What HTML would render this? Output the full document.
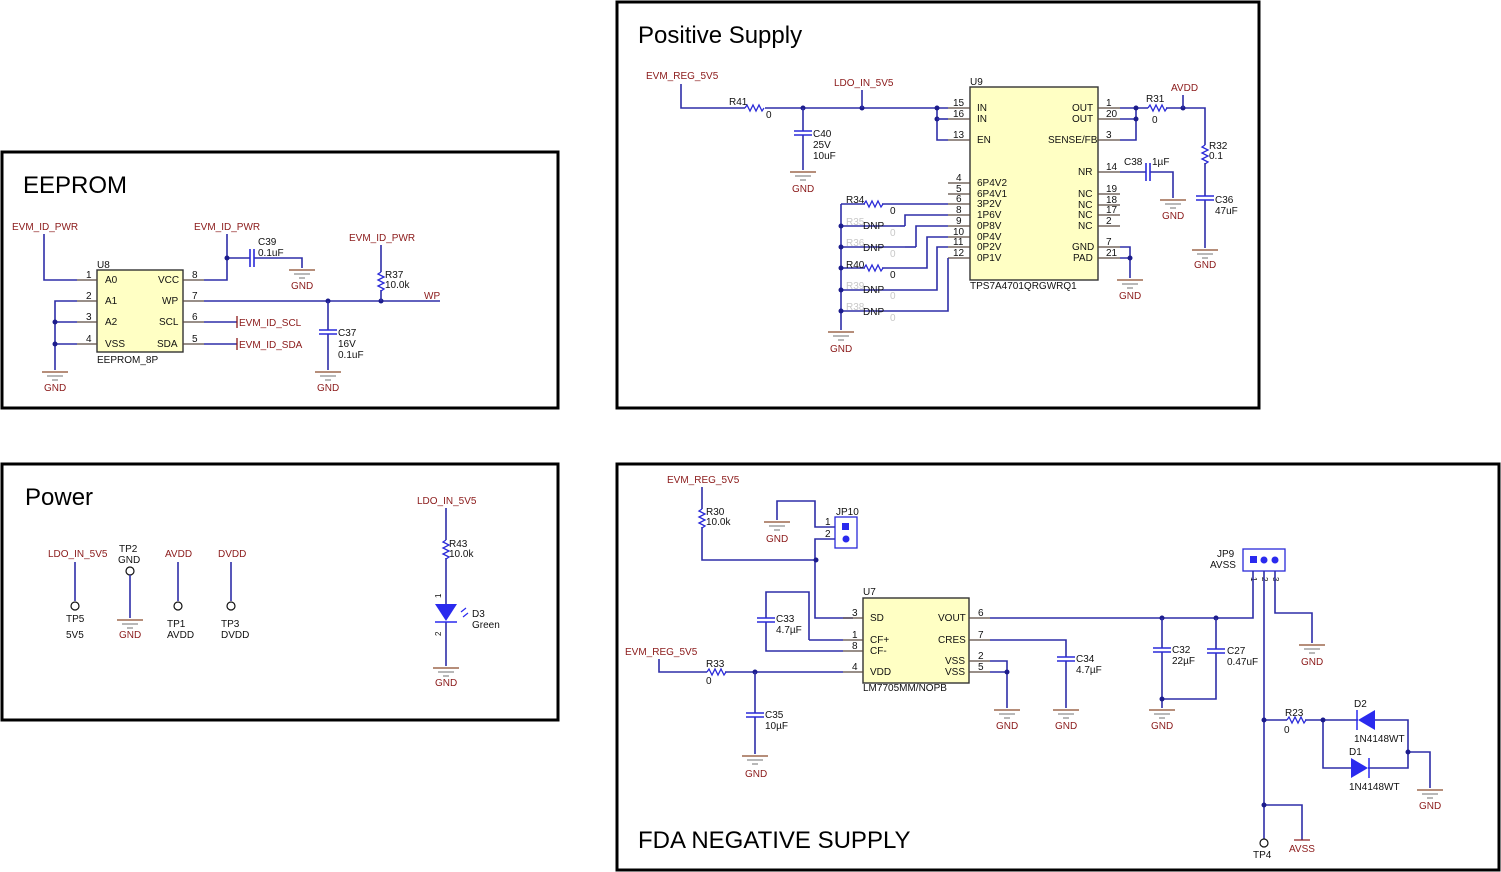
<!DOCTYPE html>
<html><head><meta charset="utf-8"><style>
html,body{margin:0;padding:0;background:#fff}
svg{display:block}
text{font-family:"Liberation Sans",Arial,sans-serif;font-size:10px;fill:#111}
.r{fill:#8b1a1a}
.g{fill:#c8c8c8}
.t{font-size:24px;fill:#000}
.w{stroke:#2e2ea8;stroke-width:1.6;fill:none}
.p{stroke:#5a4a40;stroke-width:1.2;fill:none}
.k{stroke:#111;stroke-width:1.2;fill:none}
.b{stroke:#000;stroke-width:3;fill:none}
.ic{fill:#ffffc4;stroke:#333;stroke-width:1.4}
.d{fill:#1c1c8c}
.res{stroke:#2a2ad8;stroke-width:1.3;fill:none}
.cap{stroke:#2a2ad8;stroke-width:1.6}
</style></head><body>
<svg width="1501" height="872" viewBox="0 0 1501 872" xmlns="http://www.w3.org/2000/svg">
<defs>
<g id="gnd"><line x1="-13" y1="0" x2="13" y2="0" stroke="#8b4a2a" stroke-width="1.3"/><line x1="-8" y1="4" x2="8" y2="4" stroke="#888" stroke-width="1.2"/><line x1="-3" y1="8" x2="3" y2="8" stroke="#888" stroke-width="1.2"/></g>
<path id="rh" d="M0 0 l2 -3 l3 6 l3 -6 l3 6 l3 -6 l3 6 l2 -3" class="res"/>
<path id="rv" d="M0 0 l-3 2 l6 3 l-6 3 l6 3 l-6 3 l6 3 l-3 2" class="res"/>
<g id="cv"><line x1="-9" y1="0" x2="9" y2="0" class="cap"/><line x1="-9" y1="4" x2="9" y2="4" class="cap"/></g>
<g id="ch"><line x1="0" y1="-9" x2="0" y2="9" class="cap"/><line x1="4" y1="-9" x2="4" y2="9" class="cap"/></g>
</defs>
<rect width="1501" height="872" fill="#fff"/>
<!-- frames -->
<rect x="2" y="152" width="556" height="256" class="b"/>
<rect x="617" y="2" width="642" height="406" class="b"/>
<rect x="2" y="464" width="556" height="256" class="b"/>
<rect x="617" y="464" width="882" height="406" class="b"/>
<text x="23" y="193" class="t">EEPROM</text>
<text x="638" y="43" class="t">Positive Supply</text>
<text x="25" y="505" class="t">Power</text>
<text x="638" y="848" class="t">FDA NEGATIVE SUPPLY</text>

<!-- ===== EEPROM ===== -->
<rect x="97" y="270" width="86" height="82" class="ic"/>
<text x="97" y="268">U8</text>
<text x="97" y="363">EEPROM_8P</text>
<text x="105" y="283">A0</text><text x="105" y="304">A1</text><text x="105" y="325">A2</text><text x="105" y="347">VSS</text>
<text x="158" y="283">VCC</text><text x="162" y="304">WP</text><text x="159" y="325">SCL</text><text x="157" y="347">SDA</text>
<g class="p"><path d="M77 280H97M77 301H97M77 322H97M77 344H97M183 280H204M183 301H204M183 322H204M183 344H204"/></g>
<text x="86" y="278">1</text><text x="86" y="299">2</text><text x="86" y="320">3</text><text x="86" y="342">4</text>
<text x="192" y="278">8</text><text x="192" y="299">7</text><text x="192" y="320">6</text><text x="192" y="342">5</text>
<text x="12" y="230" class="r">EVM_ID_PWR</text>
<path class="w" d="M44 234V280H77M77 301H55V370M55 322H77M55 344H77"/>
<circle cx="55" cy="322" r="2.5" class="d"/><circle cx="55" cy="344" r="2.5" class="d"/>
<use href="#gnd" x="55" y="372"/><text x="44" y="391" class="r">GND</text>
<text x="194" y="230" class="r">EVM_ID_PWR</text>
<path class="w" d="M227 234V280H204M227 258H250M254 258H302V268"/>
<circle cx="227" cy="258" r="2.5" class="d"/>
<use href="#ch" x="250" y="258"/>
<text x="258" y="245">C39</text><text x="258" y="256">0.1uF</text>
<use href="#gnd" x="302" y="270"/><text x="291" y="289" class="r">GND</text>
<path class="w" d="M204 301H440"/>
<text x="424" y="299" class="r">WP</text>
<circle cx="328" cy="301" r="2.5" class="d"/><circle cx="381" cy="301" r="2.5" class="d"/>
<text x="349" y="241" class="r">EVM_ID_PWR</text>
<path class="w" d="M381 245V272M381 290V301"/><use href="#rv" x="381" y="272"/>
<text x="385" y="278">R37</text><text x="385" y="288">10.0k</text>
<path class="w" d="M328 301V330M328 334V370"/><use href="#cv" x="328" y="330"/>
<text x="338" y="336">C37</text><text x="338" y="347">16V</text><text x="338" y="358">0.1uF</text>
<use href="#gnd" x="328" y="372"/><text x="317" y="391" class="r">GND</text>
<path class="w" d="M204 322H237M204 344H237"/>
<path d="M237 316V328M237 338V350" stroke="#8b1a1a" stroke-width="1.3"/>
<text x="239" y="326" class="r">EVM_ID_SCL</text><text x="239" y="348" class="r">EVM_ID_SDA</text>

<!-- ===== Positive Supply ===== -->
<rect x="970" y="87" width="128" height="193" class="ic"/>
<text x="970" y="85">U9</text>
<text x="970" y="289">TPS7A4701QRGWRQ1</text>
<g class="p"><path d="M948 108H970M948 119H970M948 140H970M948 183H970M948 194H970M948 204H970M948 215H970M948 226H970M948 237H970M948 247H970M948 258H970M1098 108H1120M1098 119H1120M1098 140H1120M1098 172H1120M1098 194H1120M1098 205H1120M1098 215H1120M1098 226H1120M1098 247H1120M1098 258H1120"/></g>
<g style="font-size:9px">
<text x="953" y="106">15</text><text x="953" y="117">16</text><text x="953" y="138">13</text><text x="956" y="181">4</text><text x="956" y="192">5</text><text x="956" y="202">6</text><text x="956" y="213">8</text><text x="956" y="224">9</text><text x="953" y="235">10</text><text x="953" y="245">11</text><text x="953" y="256">12</text>
<text x="1106" y="106">1</text><text x="1106" y="117">20</text><text x="1106" y="138">3</text><text x="1106" y="170">14</text><text x="1106" y="192">19</text><text x="1106" y="203">18</text><text x="1106" y="213">17</text><text x="1106" y="224">2</text><text x="1106" y="245">7</text><text x="1106" y="256">21</text>
<text x="977" y="111">IN</text><text x="977" y="122">IN</text><text x="977" y="143">EN</text><text x="977" y="186">6P4V2</text><text x="977" y="197">6P4V1</text><text x="977" y="207">3P2V</text><text x="977" y="218">1P6V</text><text x="977" y="229">0P8V</text><text x="977" y="240">0P4V</text><text x="977" y="250">0P2V</text><text x="977" y="261">0P1V</text>
<text x="1072" y="111">OUT</text><text x="1072" y="122">OUT</text><text x="1048" y="143">SENSE/FB</text><text x="1078" y="175">NR</text><text x="1078" y="197">NC</text><text x="1078" y="208">NC</text><text x="1078" y="218">NC</text><text x="1078" y="229">NC</text><text x="1072" y="250">GND</text><text x="1073" y="261">PAD</text>
</g>
<text x="646" y="79" class="r">EVM_REG_5V5</text>
<path class="w" d="M681 84V108H745M765 108H948M937 108V140H948"/>
<use href="#rh" x="745" y="108"/>
<text x="729" y="105">R41</text><text x="766" y="118">0</text>
<circle cx="803" cy="108" r="2.5" class="d"/><circle cx="862" cy="108" r="2.5" class="d"/><circle cx="937" cy="108" r="2.5" class="d"/><circle cx="937" cy="119" r="2.5" class="d"/>
<path class="w" d="M937 119H948"/>
<text x="834" y="86" class="r">LDO_IN_5V5</text><path class="w" d="M862 90V108"/>
<path class="w" d="M803 108V131M803 135V170"/><use href="#cv" x="803" y="131"/>
<text x="813" y="137">C40</text><text x="813" y="148">25V</text><text x="813" y="159">10uF</text>
<use href="#gnd" x="803" y="172"/><text x="792" y="192" class="r">GND</text>
<!-- ladder -->
<path class="w" d="M841 204V330M841 204H865M882 204H948M841 226H900M905 226H905V215H948M841 247H905M916 247V226H948M841 268H865M882 268H927V237H948M841 290H937V247H948M841 311H948V258"/>
<use href="#rh" x="864" y="204"/><use href="#rh" x="864" y="268"/>
<g class="d"><circle cx="841" cy="226" r="2.5"/><circle cx="841" cy="247" r="2.5"/><circle cx="841" cy="268" r="2.5"/><circle cx="841" cy="290" r="2.5"/><circle cx="841" cy="311" r="2.5"/></g>
<path class="w" d="M900 226H905"/><path class="w" d="M905 247H916"/>
<text x="846" y="203">R34</text><text x="890" y="214">0</text>
<text x="846" y="225" class="g">R35</text><text x="863" y="229">DNP</text><text x="890" y="236" class="g">0</text>
<text x="846" y="246" class="g">R36</text><text x="863" y="251">DNP</text><text x="890" y="257" class="g">0</text>
<text x="846" y="268">R40</text><text x="890" y="278">0</text>
<text x="846" y="289" class="g">R39</text><text x="863" y="293">DNP</text><text x="890" y="299" class="g">0</text>
<text x="846" y="310" class="g">R38</text><text x="863" y="315">DNP</text><text x="890" y="321" class="g">0</text>
<use href="#gnd" x="841" y="332"/><text x="830" y="352" class="r">GND</text>
<!-- right side -->
<path class="w" d="M1120 108H1148M1166 108H1205V145M1120 119H1136M1136 108V140H1120"/>
<use href="#rh" x="1148" y="108"/>
<circle cx="1136" cy="108" r="2.5" class="d"/><circle cx="1136" cy="119" r="2.5" class="d"/><circle cx="1183" cy="108" r="2.5" class="d"/>
<text x="1146" y="102">R31</text><text x="1152" y="123">0</text>
<text x="1171" y="91" class="r">AVDD</text><path class="w" d="M1183 95V108"/>
<use href="#rv" x="1205" y="145"/>
<path class="w" d="M1205 163V196M1205 200V248"/><use href="#cv" x="1205" y="196"/>
<text x="1209" y="149">R32</text><text x="1209" y="159">0.1</text>
<text x="1215" y="203">C36</text><text x="1215" y="214">47uF</text>
<use href="#gnd" x="1205" y="250"/><text x="1194" y="268" class="r">GND</text>
<path class="w" d="M1120 172H1146M1150 172H1173V198"/><use href="#ch" x="1146" y="172"/>
<text x="1124" y="165">C38</text><text x="1152" y="165">1µF</text>
<use href="#gnd" x="1173" y="200"/><text x="1162" y="219" class="r">GND</text>
<path class="w" d="M1120 247H1130V278M1120 258H1130"/><circle cx="1130" cy="258" r="2.5" class="d"/>
<use href="#gnd" x="1130" y="280"/><text x="1119" y="299" class="r">GND</text>

<!-- ===== Power ===== -->
<text x="48" y="557" class="r">LDO_IN_5V5</text>
<path class="w" d="M75 562V601"/><circle cx="75" cy="606" r="4" fill="#fff" stroke="#111" stroke-width="1.2"/>
<text x="66" y="622">TP5</text><text x="66" y="638">5V5</text>
<text x="119" y="552">TP2</text><text x="118" y="563">GND</text>
<circle cx="130" cy="571" r="4" fill="#fff" stroke="#111" stroke-width="1.2"/>
<path class="w" d="M130 575V618"/><use href="#gnd" x="130" y="620"/><text x="119" y="638" class="r">GND</text>
<text x="165" y="557" class="r">AVDD</text>
<path class="w" d="M178 562V601"/><circle cx="178" cy="606" r="4" fill="#fff" stroke="#111" stroke-width="1.2"/>
<text x="167" y="627">TP1</text><text x="167" y="638">AVDD</text>
<text x="218" y="557" class="r">DVDD</text>
<path class="w" d="M231 562V601"/><circle cx="231" cy="606" r="4" fill="#fff" stroke="#111" stroke-width="1.2"/>
<text x="221" y="627">TP3</text><text x="221" y="638">DVDD</text>
<text x="417" y="504" class="r">LDO_IN_5V5</text>
<path class="w" d="M446 508V540M446 558V604M446 622V666"/><use href="#rv" x="446" y="540"/>
<text x="449" y="547">R43</text><text x="449" y="557">10.0k</text>
<path d="M435 604H457L446 621Z" fill="#2a2aee"/><line x1="435" y1="622" x2="457" y2="622" stroke="#2a2aee" stroke-width="1.5"/>
<path d="M461 612l5 -4M463 617l5 -4" stroke="#2a2aee" stroke-width="1.2"/>
<text x="441" y="598" transform="rotate(-90 441 598)" style="font-size:8px">1</text>
<text x="441" y="636" transform="rotate(-90 441 636)" style="font-size:8px">2</text>
<text x="472" y="617">D3</text><text x="472" y="628">Green</text>
<use href="#gnd" x="446" y="668"/><text x="435" y="686" class="r">GND</text>

<!-- ===== FDA NEGATIVE ===== -->
<text x="667" y="483" class="r">EVM_REG_5V5</text>
<path class="w" d="M702 487V509M702 527V560H816M777 520V501H815V527H835M835 539H815V618H853"/>
<use href="#rv" x="702" y="509"/>
<text x="706" y="515">R30</text><text x="706" y="525">10.0k</text>
<circle cx="816" cy="560" r="2.5" class="d"/>
<use href="#gnd" x="777" y="522"/><text x="766" y="542" class="r">GND</text>
<rect x="835" y="517" width="22" height="31" fill="none" stroke="#2a2ad8" stroke-width="1.3"/>
<rect x="842" y="523" width="7" height="7" fill="#2a2aee"/><circle cx="846" cy="539" r="3.5" fill="#2a2aee"/>
<text x="836" y="515">JP10</text><text x="825" y="525">1</text><text x="825" y="537">2</text>
<rect x="863" y="598" width="106" height="85" class="ic"/>
<text x="863" y="595">U7</text><text x="863" y="691">LM7705MM/NOPB</text>
<g class="p"><path d="M843 618H863M843 640H863M843 651H863M843 672H863M969 618H990M969 640H990M969 661H990M969 672H990"/></g>
<text x="852" y="616">3</text><text x="852" y="638">1</text><text x="852" y="649">8</text><text x="852" y="670">4</text>
<text x="978" y="616">6</text><text x="978" y="638">7</text><text x="978" y="659">2</text><text x="978" y="670">5</text>
<text x="870" y="621">SD</text><text x="870" y="643">CF+</text><text x="870" y="654">CF-</text><text x="870" y="675">VDD</text>
<text x="938" y="621">VOUT</text><text x="938" y="643">CRES</text><text x="945" y="664">VSS</text><text x="945" y="675">VSS</text>
<path class="w" d="M809 640H843M809 640V592H766V618M766 622V651H843"/><use href="#cv" x="766" y="618"/>
<text x="776" y="622">C33</text><text x="776" y="633">4.7µF</text>
<text x="625" y="655" class="r">EVM_REG_5V5</text>
<path class="w" d="M659 659V672H707M725 672H843"/><use href="#rh" x="707" y="672"/>
<text x="706" y="667">R33</text><text x="706" y="684">0</text>
<circle cx="755" cy="672" r="2.5" class="d"/>
<path class="w" d="M755 672V713M755 717V754"/><use href="#cv" x="755" y="713"/>
<text x="765" y="718">C35</text><text x="765" y="729">10µF</text>
<use href="#gnd" x="755" y="756"/><text x="745" y="777" class="r">GND</text>
<path class="w" d="M990 661H1007V708M990 672H1007"/><circle cx="1007" cy="672" r="2.5" class="d"/>
<use href="#gnd" x="1007" y="710"/><text x="996" y="729" class="r">GND</text>
<path class="w" d="M990 640H1066V657M1066 661V708"/><use href="#cv" x="1066" y="657"/>
<text x="1076" y="662">C34</text><text x="1076" y="673">4.7µF</text>
<use href="#gnd" x="1066" y="710"/><text x="1055" y="729" class="r">GND</text>
<path class="w" d="M990 618H1253V580"/>
<circle cx="1162" cy="618" r="2.5" class="d"/><circle cx="1216" cy="618" r="2.5" class="d"/>
<path class="w" d="M1162 618V648M1162 652V708M1216 618V649M1216 653V699H1162"/>
<use href="#cv" x="1162" y="648"/><use href="#cv" x="1216" y="649"/>
<circle cx="1162" cy="699" r="2.5" class="d"/>
<text x="1172" y="653">C32</text><text x="1172" y="664">22µF</text>
<text x="1227" y="654">C27</text><text x="1227" y="665">0.47uF</text>
<use href="#gnd" x="1162" y="710"/><text x="1151" y="729" class="r">GND</text>
<rect x="1243" y="549" width="42" height="22" fill="none" stroke="#2a2ad8" stroke-width="1.3"/>
<rect x="1250" y="556" width="7" height="7" fill="#2a2aee"/><circle cx="1264" cy="560" r="3.5" fill="#2a2aee"/><circle cx="1275" cy="560" r="3.5" fill="#2a2aee"/>
<text x="1217" y="557">JP9</text><text x="1210" y="568">AVSS</text>
<text x="1251" y="577" transform="rotate(90 1251 577)" style="font-size:8px">1</text>
<text x="1262" y="577" transform="rotate(90 1262 577)" style="font-size:8px">2</text>
<text x="1273" y="577" transform="rotate(90 1273 577)" style="font-size:8px">3</text>
<path class="w" d="M1253 571V580M1264 571V839M1275 571V613H1312V643"/>
<use href="#gnd" x="1312" y="645"/><text x="1301" y="665" class="r">GND</text>
<path class="w" d="M1264 720H1287M1305 720H1358M1375 720H1408V768H1368M1351 768H1323V720M1408 752H1430V788"/>
<use href="#rh" x="1287" y="720"/>
<text x="1285" y="716">R23</text><text x="1284" y="733">0</text>
<circle cx="1264" cy="720" r="2.5" class="d"/><circle cx="1323" cy="720" r="2.5" class="d"/><circle cx="1408" cy="752" r="2.5" class="d"/>
<path d="M1375 710V730L1358 720Z" fill="#2a2aee"/><line x1="1357" y1="710" x2="1357" y2="730" stroke="#2a2aee" stroke-width="1.5"/>
<path d="M1351 758V778L1368 768Z" fill="#2a2aee"/><line x1="1369" y1="758" x2="1369" y2="778" stroke="#2a2aee" stroke-width="1.5"/>
<text x="1354" y="707">D2</text><text x="1354" y="742">1N4148WT</text>
<text x="1349" y="755">D1</text><text x="1349" y="790">1N4148WT</text>
<use href="#gnd" x="1430" y="790"/><text x="1419" y="809" class="r">GND</text>
<path class="w" d="M1264 805H1302V840"/><circle cx="1264" cy="805" r="2.5" class="d"/>
<circle cx="1264" cy="843" r="4" fill="#fff" stroke="#111" stroke-width="1.2"/>
<text x="1253" y="858">TP4</text>
<line x1="1294" y1="840" x2="1310" y2="840" stroke="#8b1a1a" stroke-width="1.2"/>
<text x="1289" y="852" class="r">AVSS</text>
</svg>
</body></html>
